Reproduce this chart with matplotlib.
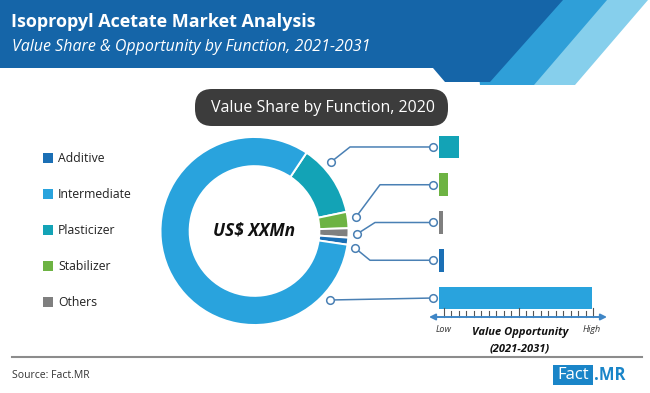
import matplotlib.pyplot as plt
from matplotlib.patches import Polygon, FancyBboxPatch, Rectangle

W, H = 650, 393

# data
functions = ["Plasticizer", "Stabilizer", "Others", "Additive", "Intermediate"]
value_share_2020 = [12.4, 2.8, 1.6, 1.2, 82.0]
value_opportunity = [1.3, 0.6, 0.25, 0.33, 9.95]
legend_order = ["Additive", "Intermediate", "Plasticizer", "Stabilizer", "Others"]

COLORS = {
    "Additive": "#1b6fb5",
    "Intermediate": "#29a3dd",
    "Plasticizer": "#13a3b6",
    "Stabilizer": "#6db343",
    "Others": "#7f7f7f",
}
LINE_COLOR = "#4a80b4"

# connector layout (pixel coords, top-left origin): start near donut, elbow x
CONNECTOR_START = {
    "Plasticizer": (331, 162),
    "Stabilizer": (356, 217),
    "Others": (357, 234),
    "Additive": (355, 248),
    "Intermediate": (330, 300),
}
CONNECTOR_ELBOW_X = {
    "Plasticizer": 350,
    "Stabilizer": 380,
    "Others": 375,
    "Additive": 370,
    "Intermediate": None,
}

plt.rcParams["font.family"] = ["Open Sans", "DejaVu Sans"]

fig = plt.figure(figsize=(6.5, 3.93), dpi=100)


def px_axes(x0, y0, x1, y1):
    return fig.add_axes([x0 / W, 1 - y1 / H, (x1 - x0) / W, (y1 - y0) / H])


# donut
ax_pie = px_axes(160.5, 137, 348.5, 325)
ax_pie.pie(
    value_share_2020,
    colors=[COLORS[f] for f in functions],
    startangle=56.4,
    counterclock=False,
    radius=1.0,
    wedgeprops=dict(width=0.31, edgecolor="white", linewidth=1.4),
)
ax_pie.set_xlim(-1, 1)
ax_pie.set_ylim(-1, 1)
ax_pie.text(0, 0.01, "US$ XXMn", ha="center", va="center", fontsize=12.5,
            fontweight="bold", fontstyle="italic", color="#111111")

# opportunity bars
ax_bar = px_axes(439, 128.1, 593, 316.9)
ax_bar.barh(range(len(functions)), value_opportunity, height=0.6,
            color=[COLORS[f] for f in functions])
ax_bar.set_xlim(0, 10)
ax_bar.set_ylim(len(functions) - 0.5, -0.5)
ax_bar.axis("off")

# overlay in pixel coordinates
ov = fig.add_axes([0, 0, 1, 1])
ov.set_xlim(0, W)
ov.set_ylim(H, 0)
ov.axis("off")
ov.patch.set_alpha(0)

# header band
ov.add_patch(Polygon([(520, 0), (648, 0), (575, 85), (520, 85)], color="#86cfec", lw=0))
ov.add_patch(Polygon([(470, 0), (607, 0), (534, 85), (480, 85)], color="#2f9fd8", lw=0))
ov.add_patch(Polygon([(0, 0), (563, 0), (490, 82), (445, 82), (433, 68), (0, 68)],
                     color="#1565a8", lw=0))
ov.text(11, 22, "Isopropyl Acetate Market Analysis", color="white",
        fontsize=13, fontweight="bold", va="center")
ov.text(12, 47, "Value Share & Opportunity by Function, 2021-2031", color="white",
        fontsize=11.5, fontstyle="italic", va="center")

# title pill
ov.add_patch(FancyBboxPatch((195, 89), 253, 37,
                            boxstyle="round,pad=0,rounding_size=17",
                            color="#3c3c3c", lw=0))
ov.text(323, 107.5, "Value Share by Function, 2020", color="white",
        fontsize=11.5, ha="center", va="center")

# legend
for i, name in enumerate(legend_order):
    y = 158 + i * 36
    ov.add_patch(Rectangle((43, y - 5), 10, 10, color=COLORS[name], lw=0))
    ov.text(58, y, name, fontsize=8.8, va="center", color="#222222")

# connectors from donut to bars
to_ov = ax_bar.transData + ov.transData.inverted()
for i, name in enumerate(functions):
    bx, by = to_ov.transform((0, i))
    end_x = bx - 6
    sx, sy = CONNECTOR_START[name]
    ex = CONNECTOR_ELBOW_X[name]
    if ex is None:
        xs, ys = [sx, end_x], [sy, by]
    else:
        xs, ys = [sx, ex, end_x], [sy, by, by]
    ov.plot(xs, ys, color=LINE_COLOR, lw=1.1, zorder=3)
    ov.plot([sx, end_x], [sy, by], "o", ms=5.5, mfc="white", mec=LINE_COLOR,
            mew=1.1, zorder=4)

# value opportunity scale
ov.annotate("", xy=(607, 317), xytext=(429, 317),
            arrowprops=dict(arrowstyle="<|-|>", color="#3f86c6", lw=1.4,
                            mutation_scale=9, shrinkA=0, shrinkB=0))
for k in range(21):
    x = 444 + k * (593 - 444) / 20
    top = 308 if k in (0, 10, 20) else 311
    ov.plot([x, x], [top, 317], color="#555555", lw=0.8)
ov.text(444, 329, "Low", fontsize=6.5, fontstyle="italic", ha="center",
        va="center", color="#333333")
ov.text(592, 329, "High", fontsize=6.5, fontstyle="italic", ha="center",
        va="center", color="#333333")
ov.text(520, 333, "Value Opportunity", fontsize=8, fontstyle="italic",
        fontweight="bold", ha="center", va="center", color="#111111")
ov.text(520, 349, "(2021-2031)", fontsize=8, fontstyle="italic",
        fontweight="bold", ha="center", va="center", color="#111111")

# footer
ov.plot([12, 642], [357, 357], color="#8c8c8c", lw=1.5)
ov.text(12, 375, "Source: Fact.MR", fontsize=7.5, va="center", color="#333333")
ov.add_patch(Rectangle((553, 365), 40, 20, color="#1a85c8", lw=0))
ov.text(573, 375, "Fact", fontsize=12, color="white", ha="center", va="center")
ov.text(594, 375, ".MR", fontsize=12, color="#1a85c8", fontweight="bold",
        ha="left", va="center")

fig.savefig("out.png", dpi=100)
